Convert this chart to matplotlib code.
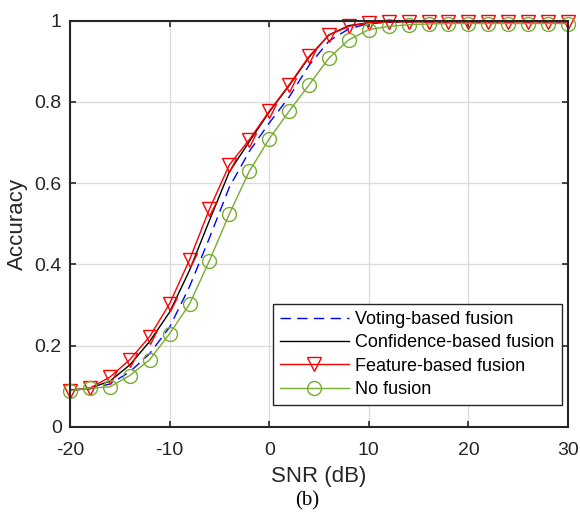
import matplotlib
matplotlib.use('Agg')
import matplotlib.pyplot as plt
import numpy as np

plt.rcParams['font.family'] = ['Liberation Sans', 'DejaVu Sans']
plt.rcParams['axes.unicode_minus'] = False

snr = list(range(-20, 31, 2))

voting = [0.090, 0.093, 0.105, 0.135, 0.180, 0.245, 0.345, 0.465, 0.590, 0.678,
          0.748, 0.812, 0.890, 0.950, 0.980, 0.993, 0.996, 0.997, 0.997, 0.997,
          0.997, 0.997, 0.997, 0.997, 0.997, 0.997]
confidence = [0.090, 0.095, 0.112, 0.152, 0.210, 0.282, 0.385, 0.508, 0.628, 0.702,
              0.775, 0.840, 0.910, 0.965, 0.988, 0.995, 0.997, 0.998, 0.998, 0.998,
              0.998, 0.998, 0.998, 0.998, 0.998, 0.998]
feature = [0.089, 0.095, 0.122, 0.165, 0.222, 0.303, 0.411, 0.536, 0.645, 0.707,
           0.777, 0.842, 0.912, 0.965, 0.986, 0.995, 0.997, 0.997, 0.997, 0.997,
           0.997, 0.997, 0.997, 0.997, 0.997, 0.997]
no_fusion = [0.089, 0.095, 0.098, 0.126, 0.165, 0.229, 0.302, 0.409, 0.524, 0.629,
             0.709, 0.777, 0.842, 0.908, 0.953, 0.978, 0.986, 0.990, 0.992, 0.993,
             0.993, 0.993, 0.993, 0.993, 0.993, 0.993]

labels = ['Voting-based fusion', 'Confidence-based fusion',
          'Feature-based fusion', 'No fusion']

fig = plt.figure(figsize=(5.8, 5.15), dpi=100)
ax = fig.add_axes([70/580, 1-426.7/515, 498/580, 406/515])

green = '#77AC30'
ax.plot(snr, voting, color='blue', lw=1, dashes=(7.5, 4.5), label=labels[0])
ax.plot(snr, confidence, color='black', lw=1, label=labels[1])
ax.plot(snr, feature, color='red', lw=1, marker='v', ms=10, mfc='none',
        mec='red', mew=1, label=labels[2], clip_on=False)
ax.plot(snr, no_fusion, color=green, lw=1, marker='o', ms=10, mfc='none',
        mec=green, mew=1, label=labels[3], clip_on=False)

ax.set_xlim(-20, 30)
ax.set_ylim(0, 1)
ax.set_xticks([-20, -10, 0, 10, 20, 30])
ax.set_yticks([0, 0.2, 0.4, 0.6, 0.8, 1])
ax.set_yticklabels(['0', '0.2', '0.4', '0.6', '0.8', '1'])
ax.grid(True, color='#dcdcdc', lw=1)
ax.set_axisbelow(True)
ax.tick_params(direction='in', length=4, width=1.2, colors='#262626',
               labelsize=14, top=True, right=True)
ax.tick_params(axis='x', pad=11)
ax.tick_params(axis='y', pad=6)
for s in ax.spines.values():
    s.set_linewidth(1.5)
    s.set_color('#262626')

ax.set_xlabel('SNR (dB)', fontsize=16, color='#262626', labelpad=5)
ax.set_ylabel('Accuracy', fontsize=16, color='#262626', labelpad=5)

leg = ax.legend(loc='lower right', bbox_to_anchor=(0.987, 0.053), fontsize=13,
                handlelength=3.8, numpoints=1, fancybox=False, framealpha=1,
                edgecolor='#262626', borderpad=0.4, labelspacing=0.35,
                handletextpad=0.35, borderaxespad=0)
leg.get_frame().set_linewidth(1)

fig.text(307/580, 1-501/515, '(b)', ha='center', va='center', fontsize=15,
         family=['Liberation Serif', 'DejaVu Serif'])

plt.savefig('out.png', dpi=100)
